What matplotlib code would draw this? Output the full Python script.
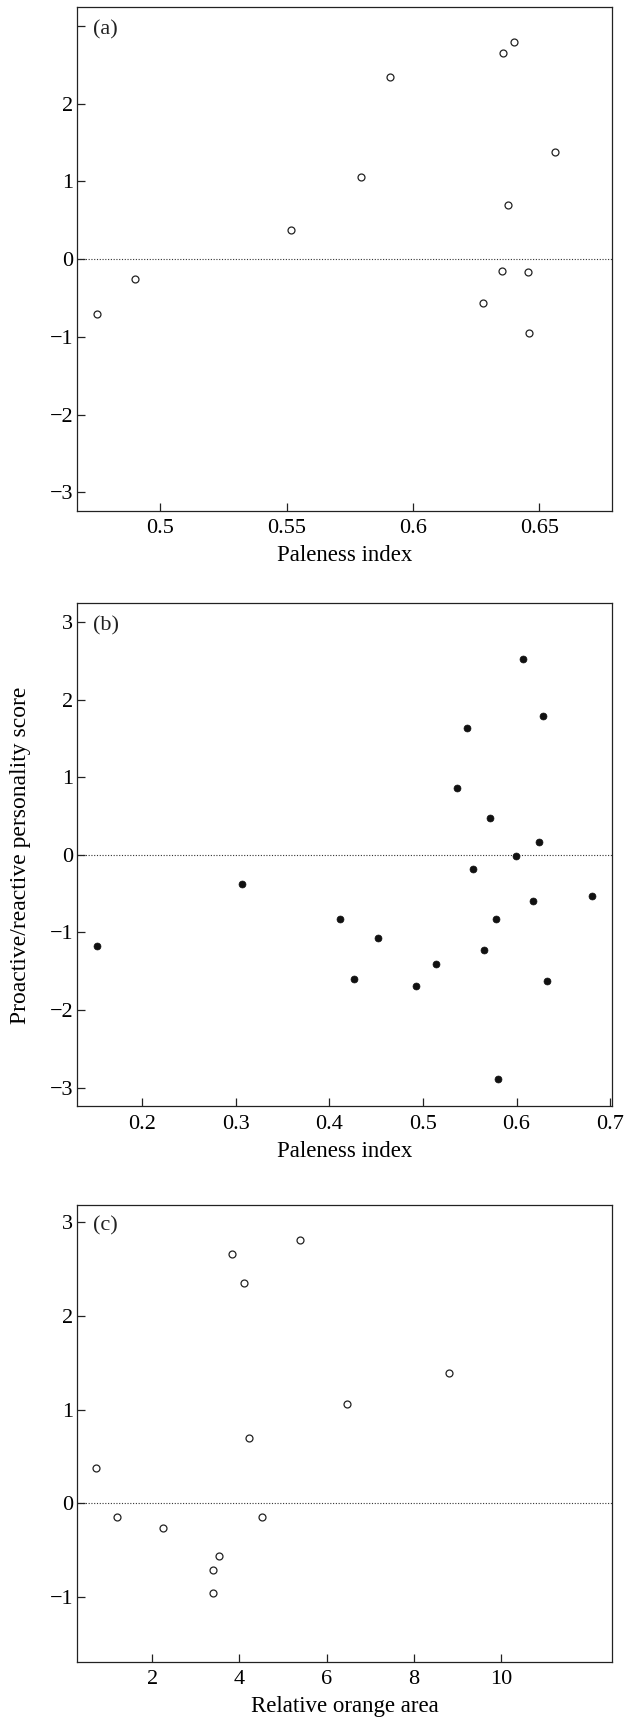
import matplotlib
matplotlib.use("Agg")
import matplotlib.pyplot as plt

plt.rcParams['font.family'] = ['Liberation Serif', 'DejaVu Serif']
plt.rcParams['font.size'] = 16
plt.rcParams['axes.unicode_minus'] = True

# panel (a): paleness index vs personality score (open circles)
pale_a = [0.475, 0.490, 0.5518, 0.5793, 0.5908, 0.6357, 0.6402, 0.6562,
          0.6376, 0.6354, 0.6457, 0.6278, 0.6459]
score_a = [-0.71, -0.26, 0.38, 1.06, 2.34, 2.65, 2.79, 1.38,
           0.70, -0.15, -0.16, -0.57, -0.95]

# panel (b): paleness index vs personality score (filled dots)
pale_b = [0.1517, 0.3065, 0.4117, 0.4263, 0.4515, 0.4926, 0.5144, 0.5362,
          0.5473, 0.5537, 0.5657, 0.5721, 0.5785, 0.5807, 0.5995, 0.6072,
          0.6179, 0.6243, 0.6281, 0.6328, 0.6808]
score_b = [-1.18, -0.37, -0.82, -1.60, -1.07, -1.69, -1.40, 0.86,
           1.63, -0.18, -1.23, 0.48, -0.82, -2.89, -0.02, 2.52,
           -0.59, 0.16, 1.79, -1.62, -0.53]

# panel (c): relative orange area vs personality score (open circles)
orange_c = [0.71, 1.20, 2.24, 3.39, 3.39, 3.53, 3.83, 4.11, 4.23, 4.51,
            5.38, 6.47, 8.80]
score_c = [0.38, -0.15, -0.26, -0.71, -0.95, -0.56, 2.66, 2.35, 0.70,
           -0.14, 2.80, 1.06, 1.39]

fig = plt.figure(figsize=(6.29, 17.22), dpi=100)
left, width = 0.1229, 0.8496
ax_a = fig.add_axes([left, 0.70325, width, 0.29251])
ax_b = fig.add_axes([left, 0.35749, width, 0.29216])
ax_c = fig.add_axes([left, 0.03513, width, 0.26510])


def style(ax, tag):
    for s in ax.spines.values():
        s.set_linewidth(0.9)
        s.set_color('#222222')
    ax.tick_params(direction='in', length=5.5, width=0.9, color='#222222')
    ax.tick_params(axis='x', pad=6)
    ax.tick_params(axis='y', pad=3)
    ax.axhline(0, color='#333333', lw=0.8, ls=(0, (1, 1.5)), zorder=1)
    ax.text(0.03, 0.975, tag, transform=ax.transAxes, ha='left', va='top',
            fontsize=16, color='#222222')


ax_a.plot(pale_a, score_a, 'o', ms=5, mfc='white', mec='#222222', mew=0.9)
ax_a.set_xlim(0.4672, 0.6787)
ax_a.set_ylim(-3.24, 3.24)
ax_a.set_xticks([0.5, 0.55, 0.6, 0.65])
ax_a.set_xticklabels(['0.5', '0.55', '0.6', '0.65'])
ax_a.set_yticks([-3, -2, -1, 0, 1, 2, 3])
ax_a.set_yticklabels(['\u22123', '\u22122', '\u22121', '0', '1', '2', ''])
ax_a.set_xlabel('Paleness index', fontsize=16.5, labelpad=5)
style(ax_a, '(a)')

ax_b.plot(pale_b, score_b, 'o', ms=5, mfc='#111111', mec='#111111', mew=0.5)
ax_b.set_xlim(0.1307, 0.7017)
ax_b.set_ylim(-3.24, 3.24)
ax_b.set_xticks([0.2, 0.3, 0.4, 0.5, 0.6, 0.7])
ax_b.set_xticklabels(['0.2', '0.3', '0.4', '0.5', '0.6', '0.7'])
ax_b.set_yticks([-3, -2, -1, 0, 1, 2, 3])
ax_b.set_yticklabels(['\u22123', '\u22122', '\u22121', '0', '1', '2', '3'])
ax_b.set_xlabel('Paleness index', fontsize=16.5, labelpad=5)
ax_b.set_ylabel('Proactive/reactive personality score', fontsize=17,
                labelpad=13)
style(ax_b, '(b)')

ax_c.plot(orange_c, score_c, 'o', ms=5, mfc='white', mec='#222222', mew=0.9)
ax_c.set_xlim(0.28, 12.54)
ax_c.set_ylim(-1.684, 3.178)
ax_c.set_xticks([2, 4, 6, 8, 10])
ax_c.set_yticks([-1, 0, 1, 2, 3])
ax_c.set_yticklabels(['\u22121', '0', '1', '2', '3'])
ax_c.set_xlabel('Relative orange area', fontsize=16.5, labelpad=5)
style(ax_c, '(c)')

fig.savefig('out.png', dpi=100)
